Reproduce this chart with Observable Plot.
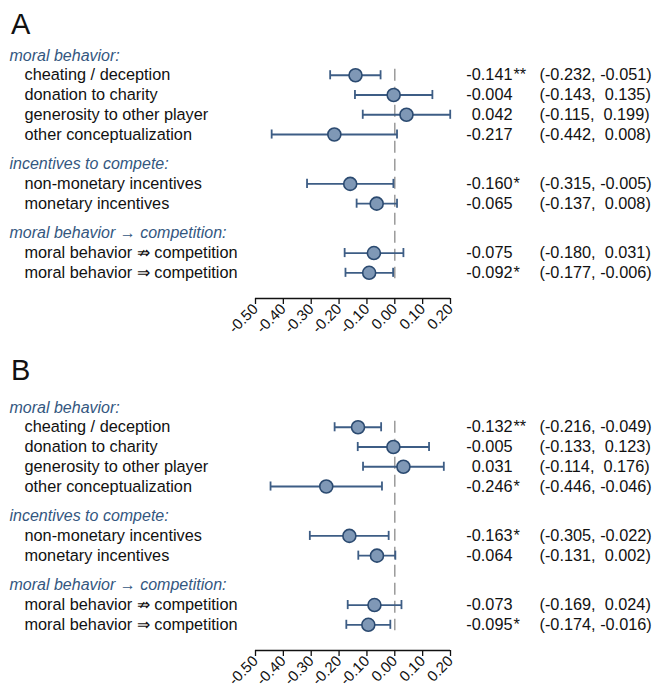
<!DOCTYPE html>
<html>
<head>
<meta charset="utf-8">
<script src="https://cdn.jsdelivr.net/npm/d3@7"></script>
<script src="https://cdn.jsdelivr.net/npm/@observablehq/plot@0.6"></script>
<style>
  html, body { margin: 0; padding: 0; background: white; overflow: hidden; }
  .panel { position: relative; width: 655px; }
  .letter { position: absolute; left: 11px; font-family: "Liberation Sans", Arial, sans-serif; font-size: 29px; line-height: 1; color: #111; }
  svg { display: block; }
</style>
</head>
<body>
<div id="pA" class="panel" style="height:352px"><div class="letter" style="top:10px">A</div></div>
<div id="pB" class="panel" style="height:338px"><div class="letter" style="top:4px">B</div></div>
<script>
const groups = ["moral behavior:", "incentives to compete:", "moral behavior \u2192 competition:"];
const labels = ["cheating / deception", "donation to charity", "generosity to other player", "other conceptualization",
  "non-monetary incentives", "monetary incentives", "moral behavior \u21CF competition", "moral behavior \u21D2 competition"];
const groupOf = [0, 0, 0, 0, 1, 1, 2, 2];
const tickVals = [-0.5, -0.4, -0.3, -0.2, -0.1, 0, 0.1, 0.2];

const estA   = [-0.141, -0.004, 0.042, -0.217, -0.160, -0.065, -0.075, -0.092];
const lowA   = [-0.232, -0.143, -0.115, -0.442, -0.315, -0.137, -0.180, -0.177];
const highA  = [-0.051, 0.135, 0.199, 0.008, -0.005, 0.008, 0.031, -0.006];
const starsA = ["**", "", "", "", "*", "", "", "*"];

const estB   = [-0.132, -0.005, 0.031, -0.246, -0.163, -0.064, -0.073, -0.095];
const lowB   = [-0.216, -0.133, -0.114, -0.446, -0.305, -0.131, -0.169, -0.174];
const highB  = [-0.049, 0.123, 0.176, -0.046, -0.022, 0.002, 0.024, -0.016];
const starsB = ["**", "", "", "*", "*", "", "", "*"];

const FONT = "'Liberation Sans', Arial, sans-serif";
const headColor = "#34577f";
const errColor = "#3d5d85";
const yMax = 12.3;

function fmt(v) { return v.toFixed(3); }
function ciStr(d) { return "(" + fmt(d.low) + ", " + (d.high >= 0 ? "\u00A0" : "") + fmt(d.high) + ")"; }

function panel(est, low, high, stars, height, marginBottom) {
  const rows = [], heads = [];
  let r = 0;
  groups.forEach((g, gi) => {
    if (gi > 0) r += 0.5;
    heads.push({label: g, row: r});
    r++;
    labels.forEach((l, i) => {
      if (groupOf[i] === gi) {
        rows.push({label: l, row: r, est: est[i], low: low[i], high: high[i], stars: stars[i]});
        r++;
      }
    });
  });
  const x0 = tickVals[0], x1 = tickVals[tickVals.length - 1];
  return Plot.plot({
    width: 655, height,
    marginLeft: 255, marginRight: 205, marginTop: 55, marginBottom,
    x: {domain: [x0, x1]},
    y: {domain: [0, yMax], reverse: true, axis: null},
    style: {fontFamily: FONT, fontSize: "16px", background: "white", overflow: "hidden"},
    marks: [
      Plot.ruleX([0], {y1: rows[0].row - 0.3, y2: rows[rows.length - 1].row + 0.3, stroke: "#9a9a9a", strokeWidth: 1.5, strokeDasharray: "12,6"}),
      Plot.ruleY([yMax], {x1: x0, x2: x1, stroke: "#111", strokeWidth: 1.3}),
      Plot.axisX({ticks: tickVals, tickFormat: d => d.toFixed(2), tickRotate: -45, fontSize: 15, label: null, tickSize: 6, tickPadding: 2, stroke: "#111", strokeWidth: 1.3, fill: "#111", fontFamily: FONT}),
      Plot.link(rows, {x1: "low", x2: "high", y1: "row", y2: "row", stroke: errColor, strokeWidth: 1.8}),
      Plot.ruleX(rows, {x: "low", y1: d => d.row - 0.23, y2: d => d.row + 0.23, stroke: errColor, strokeWidth: 1.8}),
      Plot.ruleX(rows, {x: "high", y1: d => d.row - 0.23, y2: d => d.row + 0.23, stroke: errColor, strokeWidth: 1.8}),
      Plot.dot(rows, {x: "est", y: "row", r: 6.5, fill: "#7f98b6", stroke: "#2b4a70", strokeWidth: 1.6}),
      Plot.text(heads, {text: "label", y: "row", frameAnchor: "left", textAnchor: "start", dx: -246, fontStyle: "italic", fill: headColor, fontSize: 16, fontFamily: FONT}),
      Plot.text(rows, {text: "label", y: "row", frameAnchor: "left", textAnchor: "start", dx: -231, fill: "#111", fontSize: 16.3, fontFamily: FONT}),
      Plot.text(rows, {text: d => fmt(d.est), y: "row", frameAnchor: "right", textAnchor: "end", dx: 62, fill: "#111", fontSize: 16.3, fontFamily: FONT}),
      Plot.text(rows, {text: "stars", y: "row", frameAnchor: "right", textAnchor: "start", dx: 63, fill: "#111", fontSize: 16.3, fontFamily: FONT}),
      Plot.text(rows, {text: ciStr, y: "row", frameAnchor: "right", textAnchor: "start", dx: 89, fill: "#111", fontSize: 16.3, fontFamily: FONT})
    ]
  });
}

document.getElementById("pA").prepend(panel(estA, lowA, highA, starsA, 352, 54));
document.getElementById("pB").prepend(panel(estB, lowB, highB, starsB, 338, 40));
</script>
</body>
</html>
